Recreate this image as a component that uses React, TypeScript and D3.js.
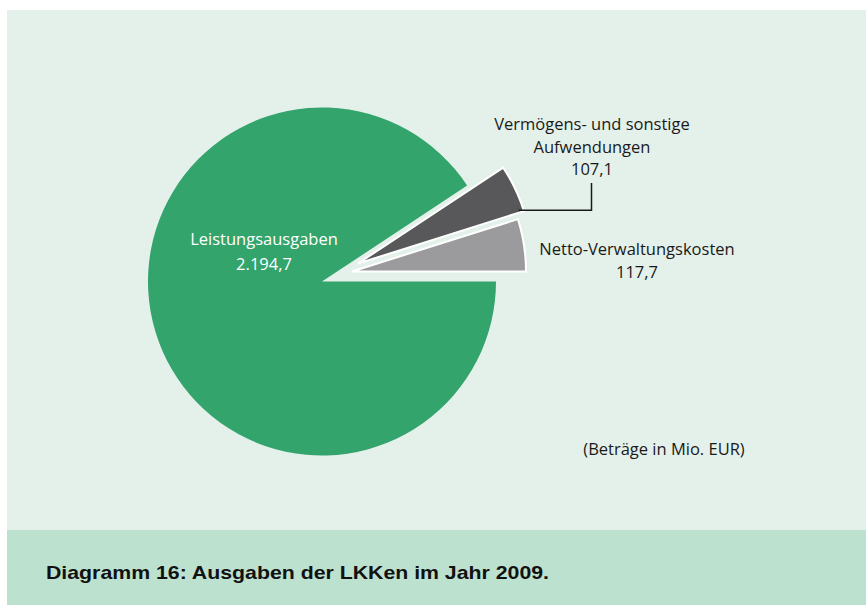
import React from "react";
import * as d3 from "d3";

const categories = ["Vermögens- und sonstige Aufwendungen", "Netto-Verwaltungskosten", "Leistungsausgaben"];
const values = [107.1, 117.7, 2194.7];
const valueLabels = ["107,1", "117,7", "2.194,7"];
const title = "Diagramm 16: Ausgaben der LKKen im Jahr 2009.";
const note = "(Beträge in Mio. EUR)";

const W = 866;
const H = 605;
const colors = ["#58585a", "#9b9b9d", "#33a46c"];
const explode: [number, number][] = [[36, -18], [30, -10], [0, 0]];
const FONT = "'Open Sans', 'Noto Sans', sans-serif";

export default function App() {
  const cx = 322;
  const cy = 281.5;
  const r = 174;
  const total = d3.sum(values);
  const smallSum = values[0] + values[1];
  const start = Math.PI / 2 - (2 * Math.PI * smallSum) / total;
  const pie = d3
    .pie<number>()
    .sort(null)
    .value((d) => d)
    .startAngle(start)
    .endAngle(start + 2 * Math.PI);
  const arcs = pie(values);
  const arc = d3.arc<d3.PieArcDatum<number>>().innerRadius(0).outerRadius(r);

  // leader line anchored near the lower edge of the first slice's outer arc
  const a0 = arcs[0];
  const anchorAng = a0.startAngle + 0.98 * (a0.endAngle - a0.startAngle);
  const lx0 = cx + explode[0][0] + Math.sin(anchorAng) * r;
  const ly0 = cy + explode[0][1] - Math.cos(anchorAng) * r;

  return (
    <svg width={W} height={H} style={{ position: "absolute", left: 0, top: 0 }}>
      <rect x={0} y={0} width={W} height={H} fill="#ffffff" />
      <rect x={7} y={10} width={W - 7} height={520} fill="#e4f1ea" />
      <rect x={7} y={530} width={W - 7} height={75} fill="#bde1cf" />
      <g>
        {arcs.map((a, i) => (
          <path
            key={i}
            d={arc(a) || ""}
            transform={`translate(${cx + explode[i][0]},${cy + explode[i][1]})`}
            fill={colors[i]}
            stroke={i < 2 ? "#ffffff" : "none"}
            strokeWidth={2}
            strokeLinejoin="miter"
          />
        ))}
      </g>
      <path
        d={`M${lx0 - 5},${ly0}H591.5V183`}
        fill="none"
        stroke="#1a1a1a"
        strokeWidth={1.5}
      />
      <g fontFamily={FONT} fontSize={16.5} textAnchor="middle">
        <text x={264} y={245} fill="#ffffff">{categories[2]}</text>
        <text x={264} y={270} fill="#ffffff">{valueLabels[2]}</text>
        <text x={592} y={130} fill="#1a1a1a">Vermögens- und sonstige</text>
        <text x={592} y={152.5} fill="#1a1a1a">Aufwendungen</text>
        <text x={592} y={175} fill="#1a1a1a">{valueLabels[0]}</text>
        <text x={637} y={255} fill="#1a1a1a">{categories[1]}</text>
        <text x={637} y={278} fill="#1a1a1a">{valueLabels[1]}</text>
        <text x={664} y={455} fill="#1a1a1a">{note}</text>
      </g>
      <text
        x={46}
        y={578.5}
        fontFamily="'Liberation Sans', Arial, sans-serif"
        fontWeight="bold"
        fontSize={18.5}
        textLength={503}
        lengthAdjust="spacingAndGlyphs"
        fill="#111111"
      >
        {title}
      </text>
    </svg>
  );
}
